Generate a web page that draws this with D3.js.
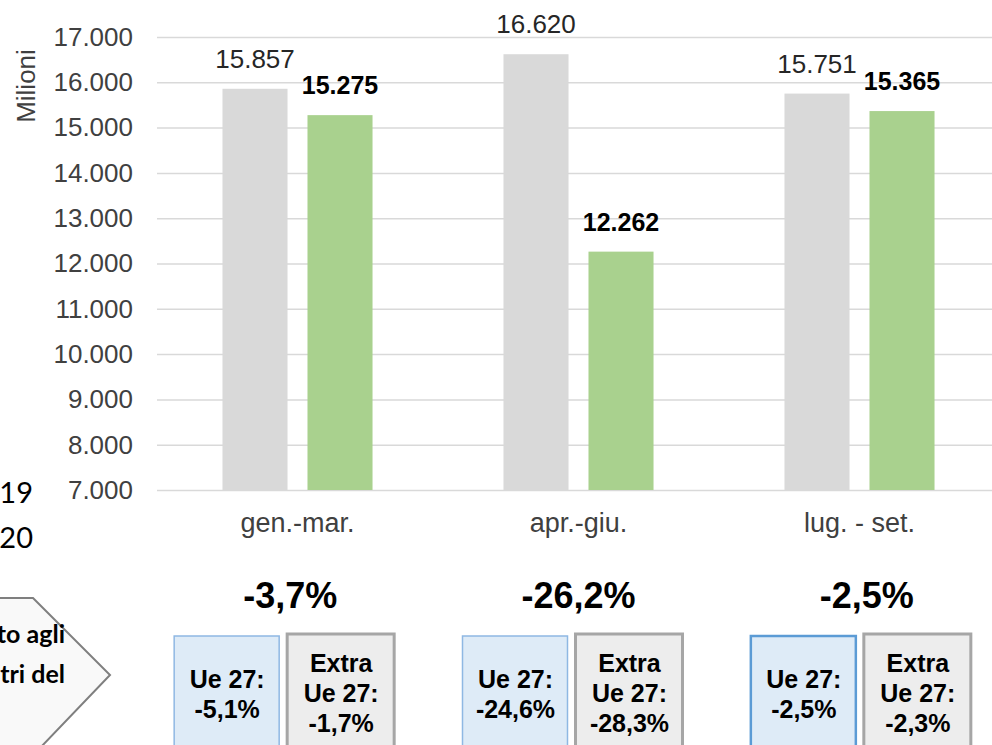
<!DOCTYPE html>
<html>
<head>
<meta charset="utf-8">
<script src="https://cdn.jsdelivr.net/npm/d3@7"></script>
<style>
    body { margin: 0; background: #fff; }
    svg { display: block; }
</style>
</head>
<body>
<svg id="container"></svg>
<script>
const periods = ['gen.-mar.', 'apr.-giu.', 'lug. - set.'];
const series = ['2019', '2020'];
const values2019 = [15857, 16620, 15751];
const values2020 = [15275, 12262, 15365];
const yTicks = [7000, 8000, 9000, 10000, 11000, 12000, 13000, 14000, 15000, 16000, 17000];
const totalChange = ['-3,7%', '-26,2%', '-2,5%'];
const ueChange = ['-5,1%', '-24,6%', '-2,5%'];
const extraUeChange = ['-1,7%', '-28,3%', '-2,3%'];
const arrowLines = ['Variazioni rispetto agli', 'stessi trimestri del'];

const width = 992;
const height = 745;
const margin = {top: 37, left: 157, bottom: 490, right: 1000};

const it = d3.formatLocale({decimal: ',', thousands: '.', grouping: [3], currency: ['', '€']});
const fmt = it.format(',');

const data = periods.map((p, i) => ({period: p, values: [values2019[i], values2020[i]]}));

const svg = d3.select('#container')
    .attr('width', width)
    .attr('height', height);

const x0 = d3.scaleBand()
    .domain(periods)
    .range([margin.left, margin.right])
    .paddingInner(0.466)
    .paddingOuter(0.233);

const x1 = d3.scaleBand()
    .domain(series)
    .range([0, x0.bandwidth()])
    .paddingInner(0.235);

const y = d3.scaleLinear()
    .domain([7000, 17000])
    .range([margin.bottom, margin.top]);

// annotation row under the chart sits on its own band scale
const xa = d3.scaleBand()
    .domain(periods)
    .range([140, 1005]);

const colors = {'2019': '#d9d9d9', '2020': '#a9d18e'};
const sans = '"Liberation Sans", Arial, sans-serif';

const axis = svg.append('g')
    .attr('transform', 'translate(' + margin.left + ',0)')
    .call(d3.axisLeft(y)
        .tickValues(yTicks)
        .tickFormat(fmt)
        .tickSize(-(margin.right - margin.left))
        .tickPadding(24));

axis.select('.domain').remove();
axis.selectAll('.tick line')
    .attr('stroke', '#d9d9d9')
    .attr('stroke-width', 1.5);
axis.selectAll('.tick text')
    .attr('fill', '#404040')
    .style('font-family', sans)
    .style('font-size', '26px');

svg.append('text')
    .attr('transform', 'translate(35,86) rotate(-90)')
    .attr('text-anchor', 'middle')
    .attr('fill', '#404040')
    .style('font-family', sans)
    .style('font-size', '26px')
    .text('Milioni');

const groups = svg.selectAll('g.group')
    .data(data)
    .enter()
    .append('g')
    .attr('class', 'group')
    .attr('transform', d => 'translate(' + x0(d.period) + ',0)');

const bars = groups.selectAll('rect')
    .data(d => d.values.map((v, i) => ({key: series[i], value: v})))
    .enter();

bars.append('rect')
    .attr('x', d => x1(d.key))
    .attr('y', d => y(d.value))
    .attr('width', x1.bandwidth())
    .attr('height', d => y(7000) - y(d.value))
    .attr('fill', d => colors[d.key]);

bars.append('text')
    .attr('x', d => x1(d.key) + x1.bandwidth() / 2)
    .attr('y', d => y(d.value) - 21)
    .attr('text-anchor', 'middle')
    .attr('fill', d => d.key === '2020' ? '#000' : '#262626')
    .style('font-family', sans)
    .style('font-size', d => d.key === '2020' ? '25px' : '26px')
    .style('font-weight', d => d.key === '2020' ? 'bold' : 'normal')
    .text(d => fmt(d.value));

svg.selectAll('text.cat')
    .data(periods)
    .enter()
    .append('text')
    .attr('class', 'cat')
    .attr('x', d => x0(d) + x0.bandwidth() / 2)
    .attr('y', 532)
    .attr('text-anchor', 'middle')
    .attr('fill', '#404040')
    .style('font-family', sans)
    .style('font-size', '27px')
    .text(d => d);

// legend, cut off at the left edge
svg.selectAll('text.legend')
    .data(series)
    .enter()
    .append('text')
    .attr('class', 'legend')
    .attr('x', 33)
    .attr('y', (d, i) => 503 + i * 45)
    .attr('text-anchor', 'end')
    .attr('fill', '#000')
    .style('font-family', 'Lato, "Open Sans", sans-serif')
    .style('font-size', '29px')
    .text(d => d);

// arrow shape with the note
svg.append('path')
    .attr('d', 'M-10,598L33,598L110,675L40,748L-10,748Z')
    .attr('fill', '#f9f9f9')
    .attr('stroke', '#7f7f7f')
    .attr('stroke-width', 2);

svg.selectAll('text.note')
    .data(arrowLines)
    .enter()
    .append('text')
    .attr('class', 'note')
    .attr('x', 65)
    .attr('y', (d, i) => 643 + i * 40)
    .attr('text-anchor', 'end')
    .attr('fill', '#000')
    .style('font-family', 'Lato, "Open Sans", sans-serif')
    .style('font-size', '25px')
    .style('font-weight', 'bold')
    .text(d => d);

const notes = periods.map((p, i) => ({period: p, total: totalChange[i], ue: ueChange[i], extra: extraUeChange[i], i: i}));

const ann = svg.selectAll('g.ann')
    .data(notes)
    .enter()
    .append('g')
    .attr('class', 'ann')
    .attr('transform', d => 'translate(' + (xa(d.period) + xa.bandwidth() / 2) + ',0)');

ann.append('text')
    .attr('x', 6)
    .attr('y', 608)
    .attr('text-anchor', 'middle')
    .attr('fill', '#000')
    .style('font-family', sans)
    .style('font-size', '36px')
    .style('font-weight', 'bold')
    .text(d => d.total);

ann.append('rect')
    .attr('x', -110)
    .attr('y', 636)
    .attr('width', 105)
    .attr('height', 130)
    .attr('fill', '#deebf7')
    .attr('stroke', d => d.i === 2 ? '#5b9bd5' : '#8fb8e3')
    .attr('stroke-width', d => d.i === 2 ? 2.5 : 1.5);

ann.append('rect')
    .attr('x', 3)
    .attr('y', 634)
    .attr('width', 107)
    .attr('height', 130)
    .attr('fill', '#ededed')
    .attr('stroke', '#a6a6a6')
    .attr('stroke-width', 3);

const boxFont = sel => sel
    .attr('text-anchor', 'middle')
    .attr('fill', '#000')
    .style('font-family', sans)
    .style('font-size', '25px')
    .style('font-weight', 'bold');

ann.selectAll('text.ue')
    .data(d => ['Ue 27:', d.ue])
    .enter()
    .append('text')
    .attr('class', 'ue')
    .attr('x', -57)
    .attr('y', (d, i) => 688 + i * 30)
    .call(boxFont)
    .text(d => d);

ann.selectAll('text.extra')
    .data(d => ['Extra', 'Ue 27:', d.extra])
    .enter()
    .append('text')
    .attr('class', 'extra')
    .attr('x', 57)
    .attr('y', (d, i) => 672 + i * 30)
    .call(boxFont)
    .text(d => d);
</script>
</body>
</html>
